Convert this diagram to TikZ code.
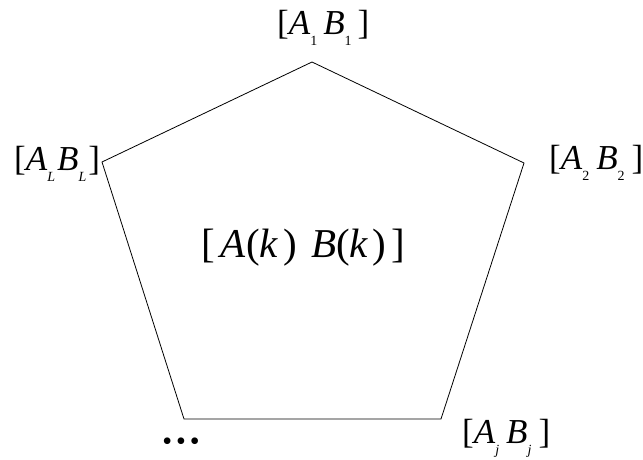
\documentclass[tikz,border=0pt]{standalone}
\usepackage{fontspec}
\setmainfont{Liberation Serif}
% subscript set low under the letter
\newcommand{\lowsub}[1]{\raisebox{-11pt}{\fontsize{14}{14}\selectfont #1}}
\newcommand{\pairlbl}[2]{[\textit{A}\kern0pt\lowsub{#1}\hspace{#2}\textit{B}\kern0pt\lowsub{#1}\hspace{#2}]}
\begin{document}
\begin{tikzpicture}[x=1pt,y=-1pt,
  lbl/.style={anchor=base west,inner sep=0pt,font=\fontsize{35}{38}\selectfont},
  edge/.style={line width=0.8pt}]
\useasboundingbox (0,0) rectangle (643,460);
\coordinate (p1) at (312,62);
\coordinate (p2) at (524,163);
\coordinate (pj) at (441,419);
\coordinate (pd) at (184,419);
\coordinate (pL) at (102,162);
\draw[edge] (p1) -- (p2) -- (pj) -- (pd) -- (pL) -- cycle;
\node[lbl] (l1) at (277,35) {\pairlbl{1}{6pt}};
\node[lbl] (l2) at (549,169) {\pairlbl{2}{7pt}};
\node[lbl] (lj) at (462,443) {\pairlbl{\textit{j}}{7pt}};
\node[lbl] (lL) at (14,170) {\pairlbl{\textit{L}}{2pt}};
\node[lbl,font=\fontsize{41}{44}\selectfont] (ctr) at (201,257)
  {[\hspace{6pt}\textit{A}(\textit{k}\hspace{5pt})\hspace{14pt}\textit{B}(\textit{k}\hspace{4pt})\hspace{5pt}]};
\node[inner sep=0pt] (dots) at (181,444)
  {\fontsize{28}{28}\selectfont •\hspace{4pt}•\hspace{4pt}•};
\end{tikzpicture}
\end{document}
